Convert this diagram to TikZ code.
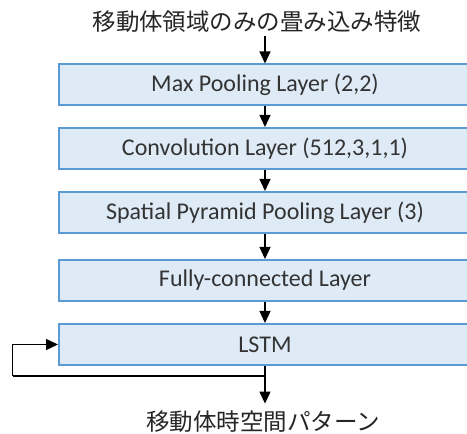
\documentclass[tikz,border=0pt]{standalone}
\usepackage{fontspec}
\setmainfont{Carlito}
\newfontfamily\jpfont{Noto Sans CJK JP}
\usepackage{xcolor}
\usetikzlibrary{arrows.meta,positioning}
\definecolor{layerbg}{RGB}{222,235,247}
\definecolor{layerline}{RGB}{91,155,213}

\begin{document}
\begin{tikzpicture}[x=1pt, y=1pt,
            layer/.style={rectangle, minimum width=412pt, minimum height=41pt, fill=layerbg, draw=layerline, line width=2pt, text=black!80, font=\fontsize{24}{28}\selectfont},
            label/.style={font=\jpfont\fontsize{23.5}{28}\selectfont, text=black!85},
            arrow/.style={-{Triangle[length=12pt, width=11pt]}, line width=1.2pt, black}
        ]
        \useasboundingbox (0,0) rectangle (467,434);

        % Input
        \node[label] (input) at (257,412) {移動体領域のみの畳み込み特徴};

        % Layers
        \node[layer] (pool) at (265,349) {Max Pooling Layer (2,2)};
        \node[layer] (conv) at (265,285.5) {Convolution Layer (512,3,1,1)};
        \node[layer] (spp) at (265,221.5) {Spatial Pyramid Pooling Layer (3)};
        \node[layer] (fc) at (265,153.5) {Fully-connected Layer};
        \node[layer] (lstm) at (265,89.5) {LSTM};

        % Output
        \node[label] (output) at (263,12) {移動体時空間パターン};

        % Arrows
        \draw[arrow] (input.south -| pool.north) -- (pool);
        \draw[arrow] (pool) -- (conv);
        \draw[arrow] (conv) -- (spp);
        \draw[arrow] (spp) -- (fc);
        \draw[arrow] (fc) -- (lstm);
        \draw[arrow, shorten >=4pt] (lstm) -- (lstm.south |- output.north);

        % Recurrent loop
        \coordinate (split) at (265,58);
        \coordinate (loopl) at (12.5,58);
        \draw[line width=1.2pt] (split) -- (loopl);
        \draw[arrow] (loopl) |- (lstm.west);

        \end{tikzpicture}
\end{document}
